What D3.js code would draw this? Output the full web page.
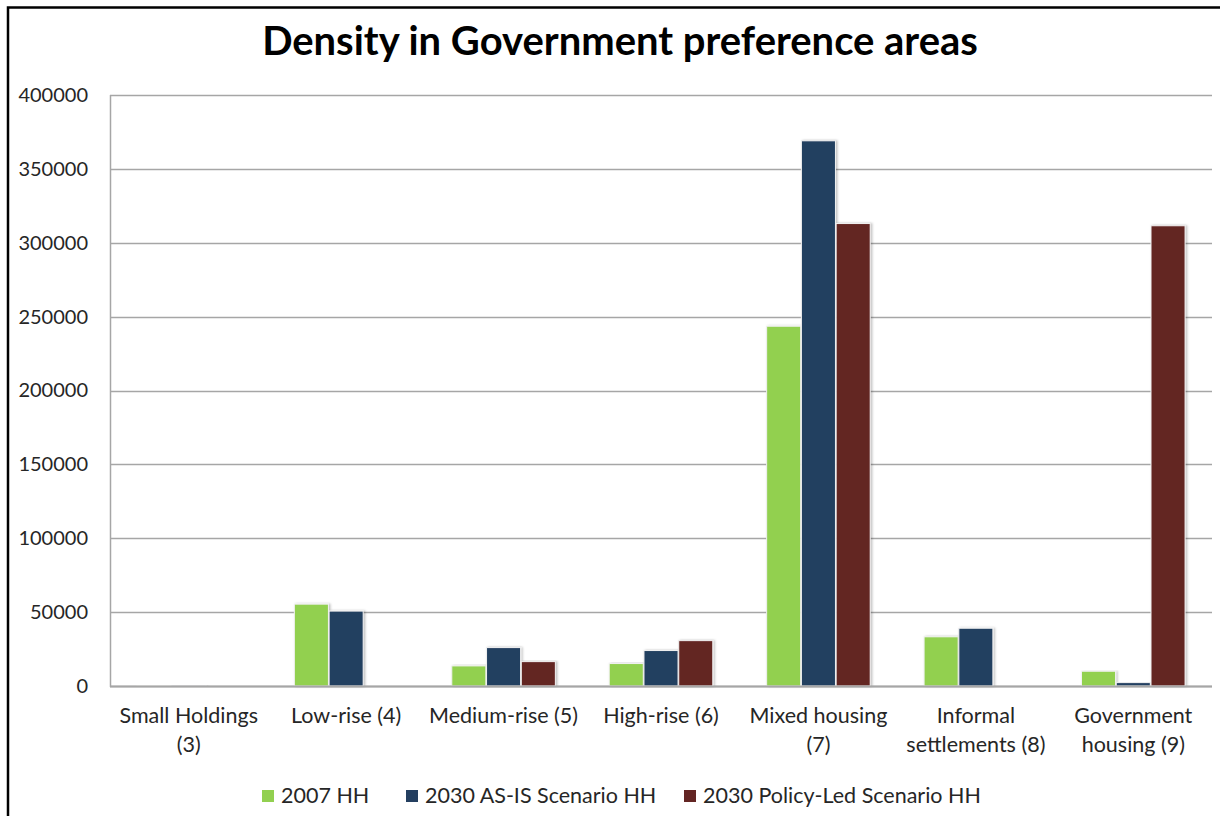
<!DOCTYPE html>
<html>
<head>
<meta charset="utf-8">
<script src="https://cdn.jsdelivr.net/npm/d3@7"></script>
<style>
  html, body { margin: 0; padding: 0; background: #fff; }
  svg { display: block; }
  text { font-family: Lato, "Open Sans", sans-serif; }
</style>
</head>
<body>
<script>
// ---- Data ----
const categories = [
  ["Small Holdings", "(3)"],
  ["Low-rise (4)"],
  ["Medium-rise (5)"],
  ["High-rise (6)"],
  ["Mixed housing", "(7)"],
  ["Informal", "settlements (8)"],
  ["Government", "housing (9)"]
];
const seriesNames = ["2007 HH", "2030 AS-IS Scenario HH", "2030 Policy-Led Scenario HH"];
const values2007   = [300, 55400, 13600, 15200, 243500, 33300, 10000];
const valuesAsIs   = [200, 50700, 26000, 24000, 369000, 39100, 2300];
const valuesPolicy = [0, 0, 16500, 30700, 313000, 0, 311500];
const yTicks = [0, 50000, 100000, 150000, 200000, 250000, 300000, 350000, 400000];
const titleText = "Density in Government preference areas";

const seriesValues = [values2007, valuesAsIs, valuesPolicy];
const colors = ["#92d050", "#243f60", "#632523"];

// ---- Layout ----
const W = 1220, H = 816;
const plot = { left: 110, right: 1212, top: 95, bottom: 686 };

const svg = d3.select("body").append("svg").attr("width", W).attr("height", H);

const defs = svg.append("defs");
const f = defs.append("filter").attr("id", "shadow").attr("x", "-20%").attr("y", "-5%").attr("width", "140%").attr("height", "110%");
f.append("feDropShadow").attr("dx", 1.5).attr("dy", 0).attr("stdDeviation", 1.2).attr("flood-color", "#000").attr("flood-opacity", 0.25);

// outer frame
svg.append("rect").attr("x", 8).attr("y", 7.5).attr("width", W + 20).attr("height", H + 20)
  .attr("fill", "none").attr("stroke", "#000").attr("stroke-width", 2.5);

// title (fit to reference width)
const title = svg.append("text").attr("x", 620).attr("y", 55).attr("text-anchor", "middle")
  .attr("font-weight", 700).attr("font-size", 100).attr("fill", "#000").text(titleText);
const tl = title.node().getComputedTextLength();
title.attr("font-size", 100 * 716 / tl);

// scales
const x0 = d3.scaleBand().domain(d3.range(categories.length)).range([plot.left, plot.right])
  .paddingInner(1 / 3).paddingOuter(1 / 6);
const x1 = d3.scaleBand().domain(d3.range(seriesNames.length)).range([0, x0.bandwidth()]).padding(0.02);
const y = d3.scaleLinear().domain([0, 400000]).range([plot.bottom, plot.top]);

// gridlines
svg.append("g").selectAll("line").data(yTicks).join("line")
  .attr("x1", plot.left).attr("x2", plot.right)
  .attr("y1", d => Math.round(y(d)) + 0.5).attr("y2", d => Math.round(y(d)) + 0.5)
  .attr("stroke", "#a6a6a6").attr("stroke-width", 1.5);

// left plot border
svg.append("line").attr("x1", plot.left + 0.5).attr("x2", plot.left + 0.5)
  .attr("y1", plot.top).attr("y2", plot.bottom + 1)
  .attr("stroke", "#a6a6a6").attr("stroke-width", 1.5);

// y axis labels
const yAxis = d3.axisLeft(y).tickValues(yTicks).tickSize(0).tickPadding(0).tickFormat(d3.format("d"));
const gy = svg.append("g").attr("transform", `translate(88,0)`).call(yAxis);
gy.select(".domain").remove();
gy.selectAll("text").attr("font-size", 20).attr("fill", "#262626").attr("font-family", "Lato, sans-serif");

// bars
const groups = svg.append("g").selectAll("g").data(categories.map((c, i) => i)).join("g")
  .attr("transform", i => `translate(${x0(i)},0)`);
groups.selectAll("rect").data(i => seriesValues.map((s, k) => ({ k, v: s[i] })))
  .join("rect")
  .attr("x", d => x1(d.k))
  .attr("width", x1.bandwidth())
  .attr("y", d => y(d.v))
  .attr("height", d => y(0) - y(d.v))
  .attr("fill", d => colors[d.k])
  .attr("stroke", d => d.v > 0 ? "#f2f2f2" : "none")
  .attr("stroke-width", 1)
  .attr("filter", "url(#shadow)");

// x axis baseline
svg.append("line").attr("x1", plot.left).attr("x2", plot.right)
  .attr("y1", plot.bottom + 0.5).attr("y2", plot.bottom + 0.5)
  .attr("stroke", "#a6a6a6").attr("stroke-width", 2);

// x labels
const xAxis = d3.axisBottom(x0).tickSize(0).tickFormat(() => "");
const gx = svg.append("g").attr("transform", `translate(0,${plot.bottom})`).call(xAxis);
gx.select(".domain").remove();
gx.selectAll(".tick").each(function (i) {
  const t = d3.select(this).select("text").attr("y", 0).attr("dy", null)
    .attr("font-size", 21.5).attr("fill", "#262626").attr("font-family", "Lato, sans-serif");
  categories[i].forEach((line, j) => {
    t.append("tspan").attr("x", 0).attr("y", 37 + j * 29).text(line);
  });
});

// legend
const legendX = [262, 406, 684];
const lg = svg.append("g").selectAll("g").data(seriesNames).join("g")
  .attr("transform", (d, i) => `translate(${legendX[i]},0)`);
lg.append("rect").attr("x", 0).attr("y", 790).attr("width", 12).attr("height", 12)
  .attr("fill", (d, i) => colors[i]);
lg.append("text").attr("x", 19).attr("y", 803).attr("font-size", 21.5).attr("fill", "#262626")
  .text(d => d);
</script>
</body>
</html>
